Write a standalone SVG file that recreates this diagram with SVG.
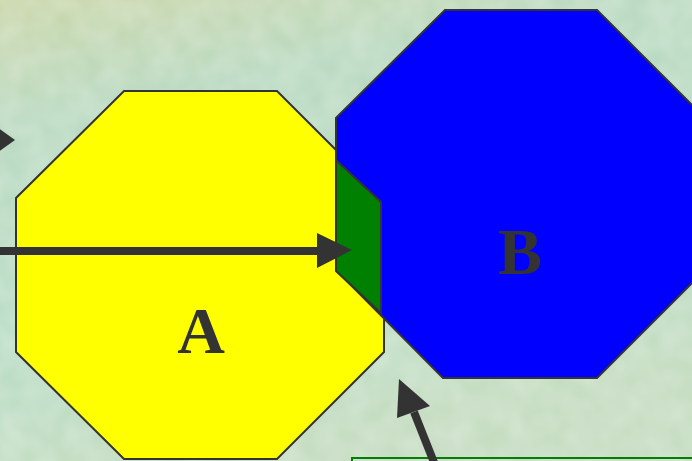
<svg xmlns="http://www.w3.org/2000/svg" width="692" height="461" viewBox="0 0 692 461">
  <style>
    .oct { stroke: #333333; stroke-width: 2; stroke-linejoin: miter; }
    .lbl { font-family: "Liberation Serif", "Times New Roman", serif; font-weight: bold; font-size: 66px; fill: #333333; text-anchor: middle; }
    .shaft { stroke: #333333; stroke-width: 8; fill: none; }
    .head { fill: #333333; }
  </style>
  <defs>
    <linearGradient id="bg" x1="0" y1="0" x2="0.3" y2="1">
      <stop offset="0" stop-color="#c9d6a8"/>
      <stop offset="0.25" stop-color="#b9d9c0"/>
      <stop offset="0.7" stop-color="#b8dcc4"/>
      <stop offset="1" stop-color="#c4dcc0"/>
    </linearGradient>
    <filter id="tex" x="0" y="0" width="100%" height="100%">
      <feTurbulence type="fractalNoise" baseFrequency="0.04" numOctaves="2" seed="3" result="n"/>
      <feColorMatrix in="n" type="matrix" values="0 0 0 0 1  0 0 0 0 1  0 0 0 0 1  0 0 0 0.35 -0.05" result="w"/>
      <feComposite in="w" in2="SourceGraphic" operator="in"/>
    </filter>
  </defs>
  <g id="background">
    <rect x="0" y="0" width="692" height="461" fill="url(#bg)"/>
    <rect x="0" y="0" width="692" height="461" fill="#ffffff" filter="url(#tex)"/>
  </g>
  <g id="nodeA">
    <polygon class="oct" fill="#ffff00" points="124,91 277,91 384,198 384,352 277,459 124,459 16,352 16,198"/>
    <text class="lbl" x="201" y="353">A</text>
  </g>
  <g id="nodeB">
    <polygon class="oct" fill="#0000ff" points="445,10 597,10 705,118 705,270 597,378 443,378 336,270 336,118"/>
    <text class="lbl" x="520" y="274">B</text>
  </g>
  <g id="overlap">
    <polygon class="oct" fill="#008000" points="336,160 381,202 381,313 336,271"/>
  </g>
  <g id="box">
    <rect x="352" y="458" width="360" height="20" fill="none" stroke="#008000" stroke-width="2"/>
  </g>
  <g id="connectors">
    <polygon class="head" points="-14,119 15,140 -14,161"/>
    <line class="shaft" x1="-5" y1="251" x2="320" y2="251"/>
    <polygon class="head" points="317,233 352,250 317,268"/>
    <line class="shaft" x1="437" y1="470" x2="414" y2="412"/>
    <polygon class="head" points="399,379 397,418 430,406"/>
  </g>
</svg>
